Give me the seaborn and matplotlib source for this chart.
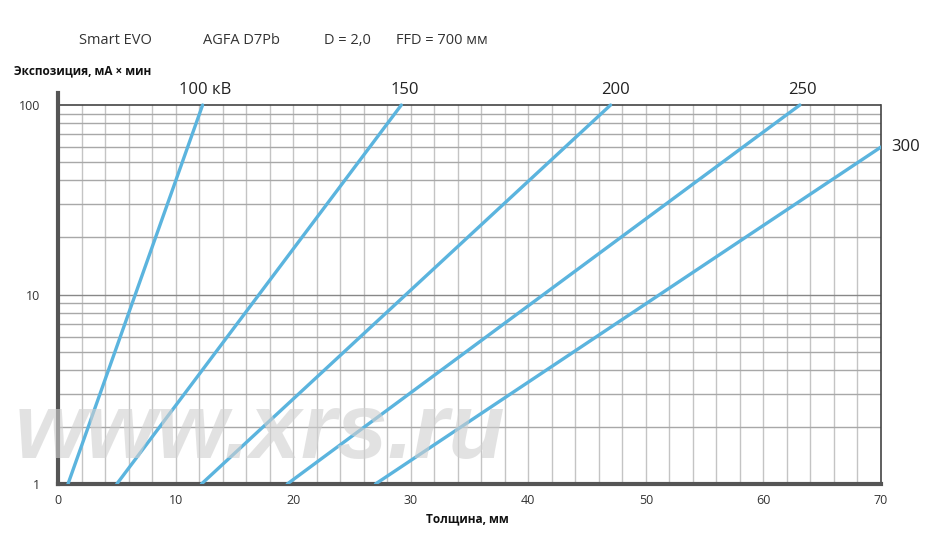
import numpy as np
import pandas as pd
import matplotlib
matplotlib.use("Agg")
import matplotlib.pyplot as plt
import seaborn as sns
from matplotlib.ticker import FixedLocator, NullFormatter

# ---- data ----
kv_labels = ["100 кВ", "150", "200", "250", "300"]
thick_start = [0.85, 5.0, 12.2, 19.5, 27.0]     # mm at start point
thick_end = [12.3, 29.2, 47.0, 63.1, 70.0]      # mm at end point
expo_start = [1, 1, 1, 1, 1]                    # mA*min at start
expo_end = [100, 100, 100, 100, 60]             # mA*min at end
header = ["Smart EVO", "AGFA D7Pb", "D = 2,0", "FFD = 700 мм"]
x_ticks = [0, 10, 20, 30, 40, 50, 60, 70]
y_ticks = [1, 10, 100]

rows = []
for lab, xs, xe, ys, ye in zip(kv_labels, thick_start, thick_end, expo_start, expo_end):
    rows.append({"kv": lab, "x": xs, "y": ys})
    rows.append({"kv": lab, "x": xe, "y": ye})
df = pd.DataFrame(rows)

sns.set_theme(style="white")
plt.rcParams['font.family'] = ['Open Sans', 'DejaVu Sans']

fig = plt.figure(figsize=(9.33, 5.47), dpi=100)
ax = fig.add_axes([58/933, 1-484/547, (881-58)/933, (484-93)/547])

line_color = "#5bb4de"
ax.set_yscale("log")
ax.set_xlim(0, 70)
ax.set_ylim(1, 115.7)

# grid
for xv in np.arange(2, 70, 2):
    ax.axvline(xv, color="#c4c4c4", lw=1.0, zorder=1, ymax=np.log10(100)/np.log10(115.7))
for dec in [1, 10]:
    for m in range(2, 10):
        ax.axhline(dec*m, color="#a8a8a8", lw=1.0, zorder=1)
ax.axhline(10, color="#888888", lw=1.0, zorder=1)
ax.axhline(100, color="#444444", lw=1.2, zorder=2)

sns.lineplot(data=df, x="x", y="y", hue="kv", palette=[line_color]*5,
             legend=False, lw=2.4, ax=ax, zorder=3)
ax.set_xlabel("")
ax.set_ylabel("")

# watermark
fig.text(15/933, 1-458/547, "www.xrs.ru", fontsize=66, fontweight="bold",
         fontstyle="italic", color="#d0d0d0", alpha=0.6, va="baseline", ha="left",
         family=["Liberation Sans", "DejaVu Sans"], zorder=5)

# spines
ax.spines["top"].set_visible(False)
ax.spines["right"].set_bounds(1, 100)
ax.spines["right"].set_color("#444444")
ax.spines["right"].set_linewidth(1.2)
ax.spines["left"].set_color("#555555")
ax.spines["left"].set_linewidth(3)
ax.spines["bottom"].set_color("#555555")
ax.spines["bottom"].set_linewidth(3)

ax.set_xticks(x_ticks)
ax.set_xticklabels([str(v) for v in x_ticks], fontsize=9, color="#333333")
ax.xaxis.set_minor_locator(FixedLocator(np.arange(2, 70, 2)))
ax.tick_params(axis="x", which="both", direction="out", length=4, width=1, color="#888888", pad=3)
ax.yaxis.set_major_locator(FixedLocator(y_ticks))
ax.set_yticklabels([str(v) for v in y_ticks], fontsize=9, color="#333333")
ax.yaxis.set_minor_locator(FixedLocator([d*m for d in [1, 10] for m in range(2, 10)]))
ax.yaxis.set_minor_formatter(NullFormatter())
ax.tick_params(axis="y", which="both", direction="out", length=5, width=1, color="#888888", pad=8)

# labels
fig.text(14/933, 1-71/547, "Экспозиция, мА × мин", fontsize=8.5, fontweight="bold",
         color="#111111", ha="left", va="center")
fig.text(467/933, 1-519/547, "Толщина, мм", fontsize=8.5, fontweight="bold",
         color="#111111", ha="center", va="center")

header_x = [79, 203, 324, 396]
for t, hx in zip(header, header_x):
    fig.text(hx/933, 1-40/547, t, fontsize=10.5, color="#333333", ha="left", va="center")

# curve labels
lab_pos = [(205, 90), (405, 90), (615, 90), (802, 90), (906, 147)]
for lab, (px, py) in zip(kv_labels, lab_pos):
    fig.text(px/933, 1-py/547, lab, fontsize=12, color="#222222", ha="center", va="center")

fig.savefig("out.png", dpi=100)
